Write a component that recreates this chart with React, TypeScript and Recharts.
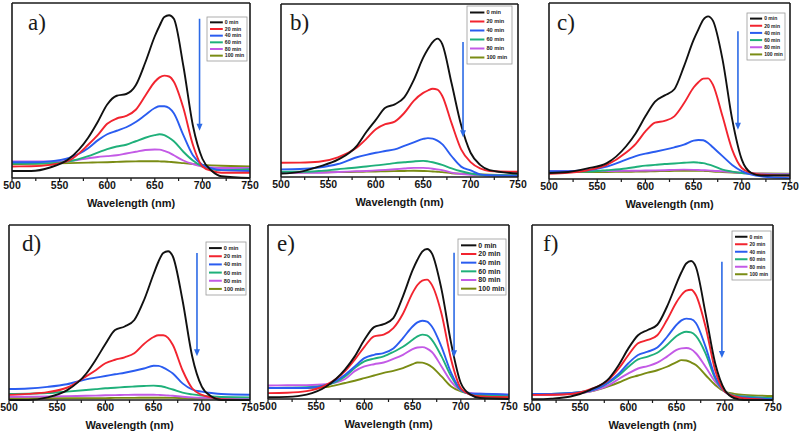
import React from 'react';
import { LineChart, Line, XAxis, YAxis, ReferenceLine } from 'recharts';

const WAVELENGTHS = [500, 520, 540, 560, 580, 590, 600, 610, 620, 630, 640, 650, 655, 660, 665, 670, 680, 690, 700, 710, 720, 750];
const SERIES_NAMES = ['0 min', '20 min', '40 min', '60 min', '80 min', '100 min'];
const SERIES_COLORS = ['#111111', '#f2242f', '#2a5cf0', '#1fb07a', '#c35ae6', '#7a8c14'];
const X_TICKS = [500, 525, 550, 575, 600, 625, 650, 675, 700, 725, 750];
const X_LABELED = [500, 550, 600, 650, 700, 750];
const PANEL_LABELS = ['a)', 'b)', 'c)', 'd)', 'e)', 'f)'];
const AXIS_TITLE = 'Wavelength (nm)';

const PANEL_A = [
  [0.04, 0.04, 0.06, 0.11, 0.23, 0.32, 0.42, 0.47, 0.48, 0.53, 0.66, 0.81, 0.87, 0.92, 0.93, 0.91, 0.64, 0.30, 0.11, 0.04, 0.01, 0.0],
  [0.066, 0.067, 0.075, 0.10, 0.19, 0.245, 0.31, 0.34, 0.355, 0.39, 0.47, 0.55, 0.575, 0.585, 0.58, 0.55, 0.40, 0.19, 0.066, 0.04, 0.03, 0.03],
  [0.09, 0.09, 0.095, 0.115, 0.17, 0.215, 0.25, 0.27, 0.29, 0.32, 0.36, 0.40, 0.41, 0.41, 0.40, 0.37, 0.245, 0.13, 0.075, 0.055, 0.045, 0.04],
  [0.083, 0.083, 0.085, 0.095, 0.125, 0.145, 0.165, 0.18, 0.19, 0.21, 0.23, 0.245, 0.25, 0.245, 0.23, 0.21, 0.15, 0.10, 0.066, 0.05, 0.045, 0.05],
  [0.094, 0.094, 0.094, 0.097, 0.113, 0.12, 0.125, 0.13, 0.14, 0.15, 0.16, 0.163, 0.162, 0.155, 0.145, 0.13, 0.10, 0.08, 0.066, 0.06, 0.057, 0.057],
  [0.08, 0.081, 0.083, 0.085, 0.088, 0.089, 0.09, 0.092, 0.094, 0.095, 0.096, 0.096, 0.095, 0.094, 0.092, 0.09, 0.085, 0.08, 0.075, 0.072, 0.07, 0.066],
];

const PANEL_B = [
  [0.02, 0.03, 0.06, 0.10, 0.18, 0.26, 0.33, 0.40, 0.42, 0.46, 0.56, 0.69, 0.74, 0.78, 0.80, 0.77, 0.54, 0.30, 0.14, 0.07, 0.04, 0.02],
  [0.082, 0.083, 0.088, 0.114, 0.17, 0.22, 0.276, 0.305, 0.32, 0.37, 0.44, 0.486, 0.50, 0.51, 0.505, 0.47, 0.31, 0.16, 0.086, 0.05, 0.035, 0.03],
  [0.044, 0.046, 0.055, 0.075, 0.114, 0.128, 0.14, 0.15, 0.16, 0.18, 0.20, 0.22, 0.225, 0.222, 0.21, 0.19, 0.12, 0.06, 0.038, 0.015, 0.01, 0.006],
  [0.03, 0.03, 0.035, 0.045, 0.055, 0.061, 0.067, 0.073, 0.08, 0.085, 0.09, 0.093, 0.09, 0.085, 0.078, 0.07, 0.05, 0.033, 0.02, 0.013, 0.01, 0.01],
  [0.025, 0.025, 0.025, 0.029, 0.033, 0.035, 0.038, 0.041, 0.045, 0.049, 0.053, 0.053, 0.051, 0.048, 0.044, 0.04, 0.025, 0.017, 0.013, 0.011, 0.01, 0.01],
  [0.025, 0.026, 0.027, 0.028, 0.03, 0.031, 0.032, 0.033, 0.034, 0.035, 0.036, 0.035, 0.034, 0.032, 0.03, 0.028, 0.022, 0.019, 0.017, 0.015, 0.013, 0.01],
];

const PANEL_C = [
  [0.034, 0.04, 0.06, 0.09, 0.186, 0.26, 0.356, 0.44, 0.475, 0.51, 0.64, 0.79, 0.85, 0.905, 0.924, 0.90, 0.68, 0.34, 0.11, 0.034, 0.02, 0.02],
  [0.03, 0.035, 0.05, 0.08, 0.15, 0.20, 0.27, 0.32, 0.33, 0.356, 0.43, 0.52, 0.55, 0.57, 0.572, 0.536, 0.356, 0.167, 0.0625, 0.034, 0.025, 0.02],
  [0.044, 0.045, 0.05, 0.07, 0.11, 0.13, 0.144, 0.155, 0.167, 0.18, 0.195, 0.218, 0.222, 0.22, 0.205, 0.18, 0.13, 0.08, 0.045, 0.025, 0.015, 0.005],
  [0.038, 0.04, 0.042, 0.05, 0.06, 0.068, 0.076, 0.08, 0.085, 0.088, 0.092, 0.095, 0.093, 0.09, 0.083, 0.075, 0.053, 0.042, 0.034, 0.03, 0.025, 0.025],
  [0.044, 0.044, 0.045, 0.045, 0.046, 0.047, 0.048, 0.049, 0.05, 0.052, 0.053, 0.052, 0.051, 0.05, 0.049, 0.047, 0.044, 0.04, 0.034, 0.032, 0.03, 0.028],
  [0.038, 0.039, 0.039, 0.04, 0.041, 0.042, 0.043, 0.044, 0.045, 0.046, 0.047, 0.047, 0.047, 0.046, 0.045, 0.043, 0.04, 0.037, 0.034, 0.032, 0.031, 0.03],
];

const PANEL_D = [
  [0.0, 0.0, 0.015, 0.055, 0.15, 0.23, 0.32, 0.40, 0.42, 0.457, 0.57, 0.72, 0.79, 0.84, 0.85, 0.82, 0.57, 0.25, 0.076, 0.02, 0.0, 0.0],
  [0.029, 0.035, 0.045, 0.07, 0.135, 0.17, 0.21, 0.23, 0.244, 0.267, 0.32, 0.36, 0.37, 0.37, 0.355, 0.314, 0.17, 0.067, 0.029, 0.015, 0.005, 0.0],
  [0.063, 0.066, 0.075, 0.09, 0.118, 0.128, 0.137, 0.147, 0.156, 0.167, 0.18, 0.196, 0.195, 0.185, 0.17, 0.152, 0.095, 0.06, 0.048, 0.04, 0.034, 0.03],
  [0.034, 0.036, 0.04, 0.048, 0.057, 0.062, 0.067, 0.07, 0.074, 0.077, 0.08, 0.082, 0.08, 0.076, 0.068, 0.06, 0.042, 0.032, 0.025, 0.02, 0.017, 0.015],
  [0.019, 0.019, 0.02, 0.022, 0.024, 0.025, 0.027, 0.028, 0.029, 0.03, 0.03, 0.03, 0.029, 0.028, 0.026, 0.024, 0.019, 0.015, 0.013, 0.012, 0.011, 0.01],
  [0.01, 0.01, 0.01, 0.011, 0.011, 0.011, 0.011, 0.012, 0.012, 0.012, 0.013, 0.013, 0.013, 0.013, 0.012, 0.012, 0.011, 0.01, 0.01, 0.009, 0.008, 0.006],
];

const PANEL_E = [
  [0.01, 0.012, 0.025, 0.07, 0.17, 0.245, 0.34, 0.413, 0.43, 0.465, 0.59, 0.74, 0.80, 0.847, 0.862, 0.837, 0.63, 0.32, 0.092, 0.025, 0.006, 0.0],
  [0.034, 0.036, 0.045, 0.08, 0.16, 0.226, 0.30, 0.36, 0.37, 0.407, 0.49, 0.61, 0.655, 0.68, 0.686, 0.656, 0.49, 0.226, 0.063, 0.025, 0.015, 0.011],
  [0.063, 0.063, 0.063, 0.08, 0.14, 0.187, 0.235, 0.254, 0.264, 0.29, 0.35, 0.417, 0.44, 0.45, 0.445, 0.417, 0.30, 0.15, 0.054, 0.03, 0.03, 0.025],
  [0.063, 0.065, 0.068, 0.08, 0.13, 0.178, 0.216, 0.232, 0.245, 0.27, 0.30, 0.34, 0.36, 0.37, 0.366, 0.34, 0.245, 0.13, 0.05, 0.03, 0.025, 0.02],
  [0.078, 0.079, 0.08, 0.085, 0.115, 0.16, 0.187, 0.2, 0.21, 0.23, 0.254, 0.287, 0.296, 0.298, 0.29, 0.27, 0.187, 0.10, 0.05, 0.035, 0.03, 0.025],
  [0.063, 0.063, 0.063, 0.068, 0.092, 0.105, 0.12, 0.135, 0.15, 0.162, 0.178, 0.20, 0.21, 0.209, 0.2, 0.184, 0.13, 0.072, 0.044, 0.03, 0.02, 0.01],
];

const PANEL_F = [
  [0.004, 0.008, 0.02, 0.057, 0.124, 0.2, 0.295, 0.37, 0.40, 0.43, 0.533, 0.667, 0.73, 0.78, 0.794, 0.76, 0.495, 0.21, 0.057, 0.01, 0.0, 0.0],
  [0.029, 0.03, 0.034, 0.06, 0.118, 0.18, 0.257, 0.324, 0.343, 0.37, 0.457, 0.56, 0.60, 0.625, 0.63, 0.60, 0.42, 0.17, 0.048, 0.02, 0.01, 0.0],
  [0.034, 0.035, 0.04, 0.053, 0.105, 0.15, 0.21, 0.257, 0.276, 0.30, 0.36, 0.43, 0.455, 0.465, 0.462, 0.44, 0.305, 0.133, 0.048, 0.02, 0.015, 0.004],
  [0.034, 0.035, 0.04, 0.053, 0.10, 0.14, 0.19, 0.232, 0.248, 0.27, 0.314, 0.366, 0.382, 0.39, 0.386, 0.366, 0.267, 0.124, 0.048, 0.025, 0.02, 0.01],
  [0.029, 0.03, 0.035, 0.048, 0.086, 0.12, 0.152, 0.18, 0.194, 0.213, 0.248, 0.286, 0.295, 0.297, 0.29, 0.267, 0.19, 0.105, 0.048, 0.025, 0.02, 0.01],
  [0.029, 0.03, 0.035, 0.048, 0.08, 0.10, 0.124, 0.14, 0.156, 0.17, 0.19, 0.217, 0.228, 0.226, 0.215, 0.2, 0.143, 0.086, 0.048, 0.035, 0.029, 0.023],
];

// arrow annotation: [wavelength, start value, end value]
const ARROWS = [
  [697, 0.91, 0.27],
  [692, 0.78, 0.23],
  [696, 0.84, 0.28],
  [695, 0.84, 0.25],
  [693, 0.84, 0.24],
  [697, 0.79, 0.24],
];

const PANEL_SERIES = [PANEL_A, PANEL_B, PANEL_C, PANEL_D, PANEL_E, PANEL_F];

// layout: plot rect [left, top, right, bottom]
const LAYOUT = [
  { plot: [12, 3, 250, 178], legend: [207, 17, 40, 44, 5.2], labelAt: [28, 30] },
  { plot: [281, 4, 518, 177], legend: [467, 6, 45, 58, 5.6], labelAt: [290, 30] },
  { plot: [549, 3, 790, 179], legend: [747, 13, 38, 47, 5.0], labelAt: [557, 30] },
  { plot: [9, 225, 250, 400], legend: [206, 242, 40, 53, 5.6], labelAt: [22, 251] },
  { plot: [268, 225, 509, 399], legend: [458, 239, 48, 56, 7.0], labelAt: [277, 251] },
  { plot: [532, 225, 773, 400], legend: [732, 231, 39, 49, 5.0], labelAt: [543, 251] },
];

const AXIS_STROKE = '#1a1a1a';
const ARROW_COLOR = '#2c6ae6';

const ArrowShape = (props: any) => {
  const { x1, y1, x2, y2 } = props;
  if (x1 == null || y1 == null || x2 == null || y2 == null) return null;
  const head = 7;
  return (
    <g>
      <line x1={x1} y1={y1} x2={x2} y2={y2 - head + 1} stroke={ARROW_COLOR} strokeWidth={1.6} />
      <polygon points={`${x2 - 3},${y2 - head} ${x2 + 3},${y2 - head} ${x2},${y2}`} fill={ARROW_COLOR} />
    </g>
  );
};

const ML = 20;
const MR = 20;
const MT = 3;
const AXH = 40;

function Panel({ idx }: { idx: number }) {
  const lay = LAYOUT[idx];
  const [pl, pt, pr, pb] = lay.plot;
  const w = pr - pl + ML + MR;
  const h = pb - pt + MT + AXH;
  const series = PANEL_SERIES[idx];
  const data = WAVELENGTHS.map((x, i) => {
    const row: any = { x };
    series.forEach((s, j) => {
      row['s' + j] = s[i];
    });
    return row;
  });
  const arrow = ARROWS[idx];
  const axisLine = { stroke: AXIS_STROKE, strokeWidth: 1.6 };
  const order = [5, 4, 3, 2, 1, 0];
  return (
    <div style={{ position: 'absolute', left: pl - ML, top: pt - MT, width: w, height: h }}>
      <LineChart width={w} height={h} data={data} margin={{ top: MT - 1, right: MR - 1, left: ML - 1, bottom: 0 }}>
        <XAxis
          dataKey="x"
          type="number"
          domain={[500, 750]}
          ticks={X_TICKS}
          interval={0}
          tickFormatter={(v: number) => (X_LABELED.includes(v) ? String(v) : '')}
          tickSize={3}
          tickMargin={1}
          tick={{ fontSize: 10.5, fontWeight: 700, fill: '#151515', fontFamily: 'Liberation Sans, Arial, sans-serif' }}
          tickLine={{ stroke: AXIS_STROKE, strokeWidth: 1.2 }}
          axisLine={axisLine}
          height={AXH}
          label={{
            value: AXIS_TITLE,
            position: 'insideBottom',
            offset: 11,
            style: { fontSize: 11, fontWeight: 700, fill: '#151515', fontFamily: 'Liberation Sans, Arial, sans-serif' },
          }}
        />
        <XAxis xAxisId="top" orientation="top" type="number" domain={[500, 750]} tick={false} tickLine={false} height={1} axisLine={axisLine} />
        <YAxis yAxisId="l" type="number" domain={[0, 1]} tick={false} tickLine={false} width={1} axisLine={axisLine} />
        <YAxis yAxisId="r" orientation="right" type="number" domain={[0, 1]} tick={false} tickLine={false} width={1} axisLine={axisLine} />
        {order.map((j) => (
          <Line
            key={j}
            yAxisId="l"
            type="monotone"
            dataKey={'s' + j}
            name={SERIES_NAMES[j]}
            stroke={SERIES_COLORS[j]}
            strokeWidth={1.9}
            dot={false}
            activeDot={false}
            isAnimationActive={false}
          />
        ))}
        <ReferenceLine
          yAxisId="l"
          segment={[
            { x: arrow[0], y: arrow[1] },
            { x: arrow[0], y: arrow[2] },
          ]}
          shape={ArrowShape}
        />
      </LineChart>
    </div>
  );
}

function Overlay() {
  return (
    <svg width={800} height={436} style={{ position: 'absolute', left: 0, top: 0, pointerEvents: 'none' }}>
      {LAYOUT.map((lay, i) => {
        const [lx, ly, lw, lh, fs] = lay.legend;
        const rowH = (lh - 4) / SERIES_NAMES.length;
        const lineLen = lw * 0.32;
        return (
          <g key={i}>
            <text
              x={lay.labelAt[0]}
              y={lay.labelAt[1]}
              fontSize={23}
              fontFamily="Liberation Serif, Times New Roman, serif"
              fill="#1a1a1a"
            >
              {PANEL_LABELS[i]}
            </text>
            <rect x={lx} y={ly} width={lw} height={lh} fill="#ffffff" stroke="#9a9a9a" strokeWidth={0.8} />
            {SERIES_NAMES.map((name, j) => {
              const cy = ly + 2 + rowH * (j + 0.5);
              return (
                <g key={j}>
                  <line x1={lx + 3} y1={cy} x2={lx + 3 + lineLen} y2={cy} stroke={SERIES_COLORS[j]} strokeWidth={2} />
                  <text
                    x={lx + 5 + lineLen}
                    y={cy}
                    dy="0.35em"
                    fontSize={fs}
                    fontWeight={700}
                    fontFamily="Liberation Sans, Arial, sans-serif"
                    fill="#222"
                  >
                    {name}
                  </text>
                </g>
              );
            })}
          </g>
        );
      })}
    </svg>
  );
}

export default function App() {
  return (
    <div style={{ position: 'absolute', left: 0, top: 0, width: 800, height: 436, background: '#ffffff' }}>
      {PANEL_SERIES.map((_, i) => (
        <Panel key={i} idx={i} />
      ))}
      <Overlay />
    </div>
  );
}
